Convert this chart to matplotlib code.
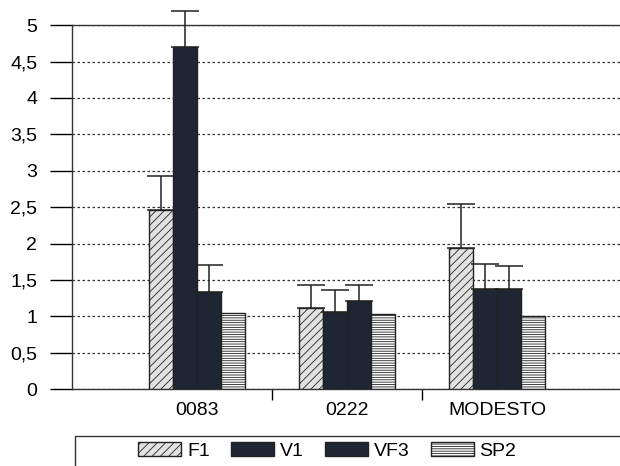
import matplotlib.pyplot as plt
import numpy as np
from matplotlib.patches import Rectangle

plt.rcParams['font.family'] = ['Liberation Sans', 'DejaVu Sans']
plt.rcParams['hatch.linewidth'] = 0.6

categorias = ['0083', '0222', 'MODESTO']
series = ['F1', 'V1', 'VF3', 'SP2']

F1 = [2.46, 1.11, 1.94]
V1 = [4.70, 1.06, 1.37]
VF3 = [1.33, 1.21, 1.37]
SP2 = [1.04, 1.03, 1.00]

F1_err = [0.47, 0.32, 0.60]
V1_err = [0.50, 0.30, 0.35]
VF3_err = [0.37, 0.22, 0.32]
SP2_err = [0, 0, 0]

valores = [F1, V1, VF3, SP2]
erros = [F1_err, V1_err, VF3_err, SP2_err]
cores = ['#e2e2e2', '#1f2633', '#1f2633', 'white']
hachuras = ['////', None, None, '-------']

fig = plt.figure(figsize=(6.2, 4.66), dpi=100)
ax = fig.add_axes([0.116, 0.165, 0.884, 0.781])

x = np.arange(len(categorias))
largura = 0.16
for i, (nome, v, e) in enumerate(zip(series, valores, erros)):
    pos = x + (i - 1.5) * largura
    ax.bar(pos, v, largura, color=cores[i], edgecolor='#222222', linewidth=1,
           hatch=hachuras[i], label=nome, zorder=3)
    if any(e):
        barras = ax.errorbar(pos, v, yerr=[np.zeros(len(e)), e], fmt='none', ecolor='#222222',
                             elinewidth=1.1, capsize=10, capthick=1.1, zorder=4)
        for art in barras.lines[1] + barras.lines[2]:
            art.set_clip_on(False)

ax.set_ylim(0, 5)
ax.set_xlim(-0.833, 2.82)
ax.set_yticks(np.arange(0, 5.01, 0.5))
ax.set_yticklabels(['0', '0,5', '1', '1,5', '2', '2,5', '3', '3,5', '4', '4,5', '5'], fontsize=14)
ax.yaxis.grid(True, linestyle=(0, (2, 2)), color='#333333', linewidth=0.9)
ax.tick_params(axis='y', direction='out', length=16, width=1, pad=9)

ax.set_xticks([0.5, 1.5])
ax.set_xticklabels([])
ax.tick_params(axis='x', direction='out', length=8, width=1)
ax.set_xticks(x, minor=True)
ax.set_xticklabels(categorias, minor=True, fontsize=14)
ax.tick_params(axis='x', which='minor', length=0, pad=9)

ax.spines['right'].set_visible(False)
for s in ['left', 'bottom', 'top']:
    ax.spines[s].set_color('#333333')
    ax.spines[s].set_linewidth(1)

fig.patches.append(Rectangle((0.121, -0.01), 0.9, 0.074, transform=fig.transFigure,
                             fill=False, edgecolor='#333333', linewidth=1))
fig.legend(loc='center', ncol=4, bbox_to_anchor=(0.528, 0.032), frameon=False,
           fontsize=14, handlelength=2.2, handleheight=0.7, columnspacing=1.1,
           handletextpad=0.3)

fig.savefig('out.png', dpi=100)
